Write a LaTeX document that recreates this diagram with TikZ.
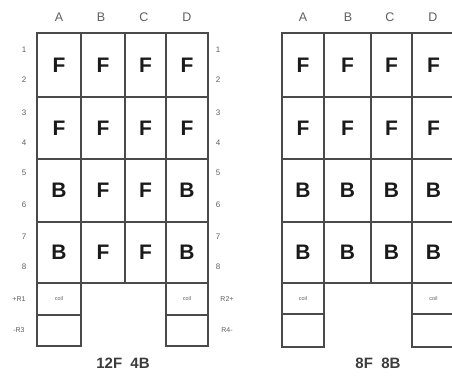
\documentclass[tikz,border=0pt]{standalone}
\usepackage{fontspec}
\setmainfont{Liberation Sans}
\definecolor{gridc}{HTML}{4A4A4A}
\definecolor{letc}{HTML}{1A1A1A}
\definecolor{labc}{HTML}{606060}
\newcommand{\mycell}[6]{%
  \node[cellbox, minimum width={#4-#2}, minimum height={#5-#3}] (#1) at ({(#2+#4)/2},{(#3+#5)/2}) {#6};}
\begin{document}
\begin{tikzpicture}[x=1pt,y=-1pt,
  cellbox/.style={draw=gridc, line width=1.3pt, inner sep=0pt, outer sep=0pt, text=letc,
    font=\fontsize{21}{21}\selectfont\bfseries},
  coilbox/.style={cellbox, font=\fontsize{5.5}{5.5}\selectfont, text=labc},
  hdr/.style={text=labc, font=\fontsize{12.5}{12.5}\selectfont},
  num/.style={text=labc, font=\fontsize{8}{8}\selectfont},
  rlab/.style={text=labc, font=\fontsize{7}{7}\selectfont},
  ttl/.style={text=letc!85, font=\fontsize{15}{15}\selectfont\bfseries}]
\useasboundingbox (0,0) rectangle (452,375);
\clip (0,0) rectangle (452,375);
\fill[white] (0,0) rectangle (452,375);
% ---------- left grid ----------
\mycell{LA1}{37}{33}{81}{97}{F}
\mycell{LB1}{81}{33}{125}{97}{F}
\mycell{LC1}{125}{33}{166}{97}{F}
\mycell{LD1}{166}{33}{208}{97}{F}
\mycell{LA2}{37}{97}{81}{159}{F}
\mycell{LB2}{81}{97}{125}{159}{F}
\mycell{LC2}{125}{97}{166}{159}{F}
\mycell{LD2}{166}{97}{208}{159}{F}
\mycell{LA3}{37}{159}{81}{222}{B}
\mycell{LB3}{81}{159}{125}{222}{F}
\mycell{LC3}{125}{159}{166}{222}{F}
\mycell{LD3}{166}{159}{208}{222}{B}
\mycell{LA4}{37}{222}{81}{283}{B}
\mycell{LB4}{81}{222}{125}{283}{F}
\mycell{LC4}{125}{222}{166}{283}{F}
\mycell{LD4}{166}{222}{208}{283}{B}
\node[coilbox, minimum width=44, minimum height=32] (LAc) at (59,299) {coil};
\node[coilbox, minimum width=44, minimum height=31] (LAe) at (59,330.5) {};
\node[coilbox, minimum width=42, minimum height=32] (LDc) at (187,299) {coil};
\node[coilbox, minimum width=42, minimum height=31] (LDe) at (187,330.5) {};
% headers
\node[hdr] (LhA) at (59,17) {A};
\node[hdr] (LhB) at (101,17) {B};
\node[hdr] (LhC) at (144,17) {C};
\node[hdr] (LhD) at (187,17) {D};
% row numbers
\foreach \n/\y in {1/50,2/80,3/113,4/143,5/173,6/205,7/237,8/267}{
  \node[num] (Ln\n) at (24,\y) {\n};
  \node[num] (Rn\n) at (218,\y) {\n};
}
\node[rlab] (R1) at (19,299) {+R1};
\node[rlab] (R3) at (19,330) {-R3};
\node[rlab] (R2) at (227,299) {R2+};
\node[rlab] (R4) at (227,330) {R4-};
\node[ttl] (Lt) at (123,363) {12F\ \ 4B};
% ---------- right grid ----------
\mycell{RA1}{282}{33}{324}{97}{F}
\mycell{RB1}{324}{33}{371}{97}{F}
\mycell{RC1}{371}{33}{412}{97}{F}
\mycell{RD1}{412}{33}{455}{97}{F}
\mycell{RA2}{282}{97}{324}{159}{F}
\mycell{RB2}{324}{97}{371}{159}{F}
\mycell{RC2}{371}{97}{412}{159}{F}
\mycell{RD2}{412}{97}{455}{159}{F}
\mycell{RA3}{282}{159}{324}{222}{B}
\mycell{RB3}{324}{159}{371}{222}{B}
\mycell{RC3}{371}{159}{412}{222}{B}
\mycell{RD3}{412}{159}{455}{222}{B}
\mycell{RA4}{282}{222}{324}{283}{B}
\mycell{RB4}{324}{222}{371}{283}{B}
\mycell{RC4}{371}{222}{412}{283}{B}
\mycell{RD4}{412}{222}{455}{283}{B}
\node[coilbox, minimum width=42, minimum height=31] (RAc) at (303,298.5) {coil};
\node[coilbox, minimum width=42, minimum height=33] (RAe) at (303,330.5) {};
\node[coilbox, minimum width=43, minimum height=31] (RDc) at (433.5,298.5) {coil};
\node[coilbox, minimum width=43, minimum height=33] (RDe) at (433.5,330.5) {};
\node[hdr] (RhA) at (303,17) {A};
\node[hdr] (RhB) at (348,17) {B};
\node[hdr] (RhC) at (390,17) {C};
\node[hdr] (RhD) at (433,17) {D};
\node[ttl] (Rt) at (378,363) {8F\ \ 8B};
\end{tikzpicture}
\end{document}
